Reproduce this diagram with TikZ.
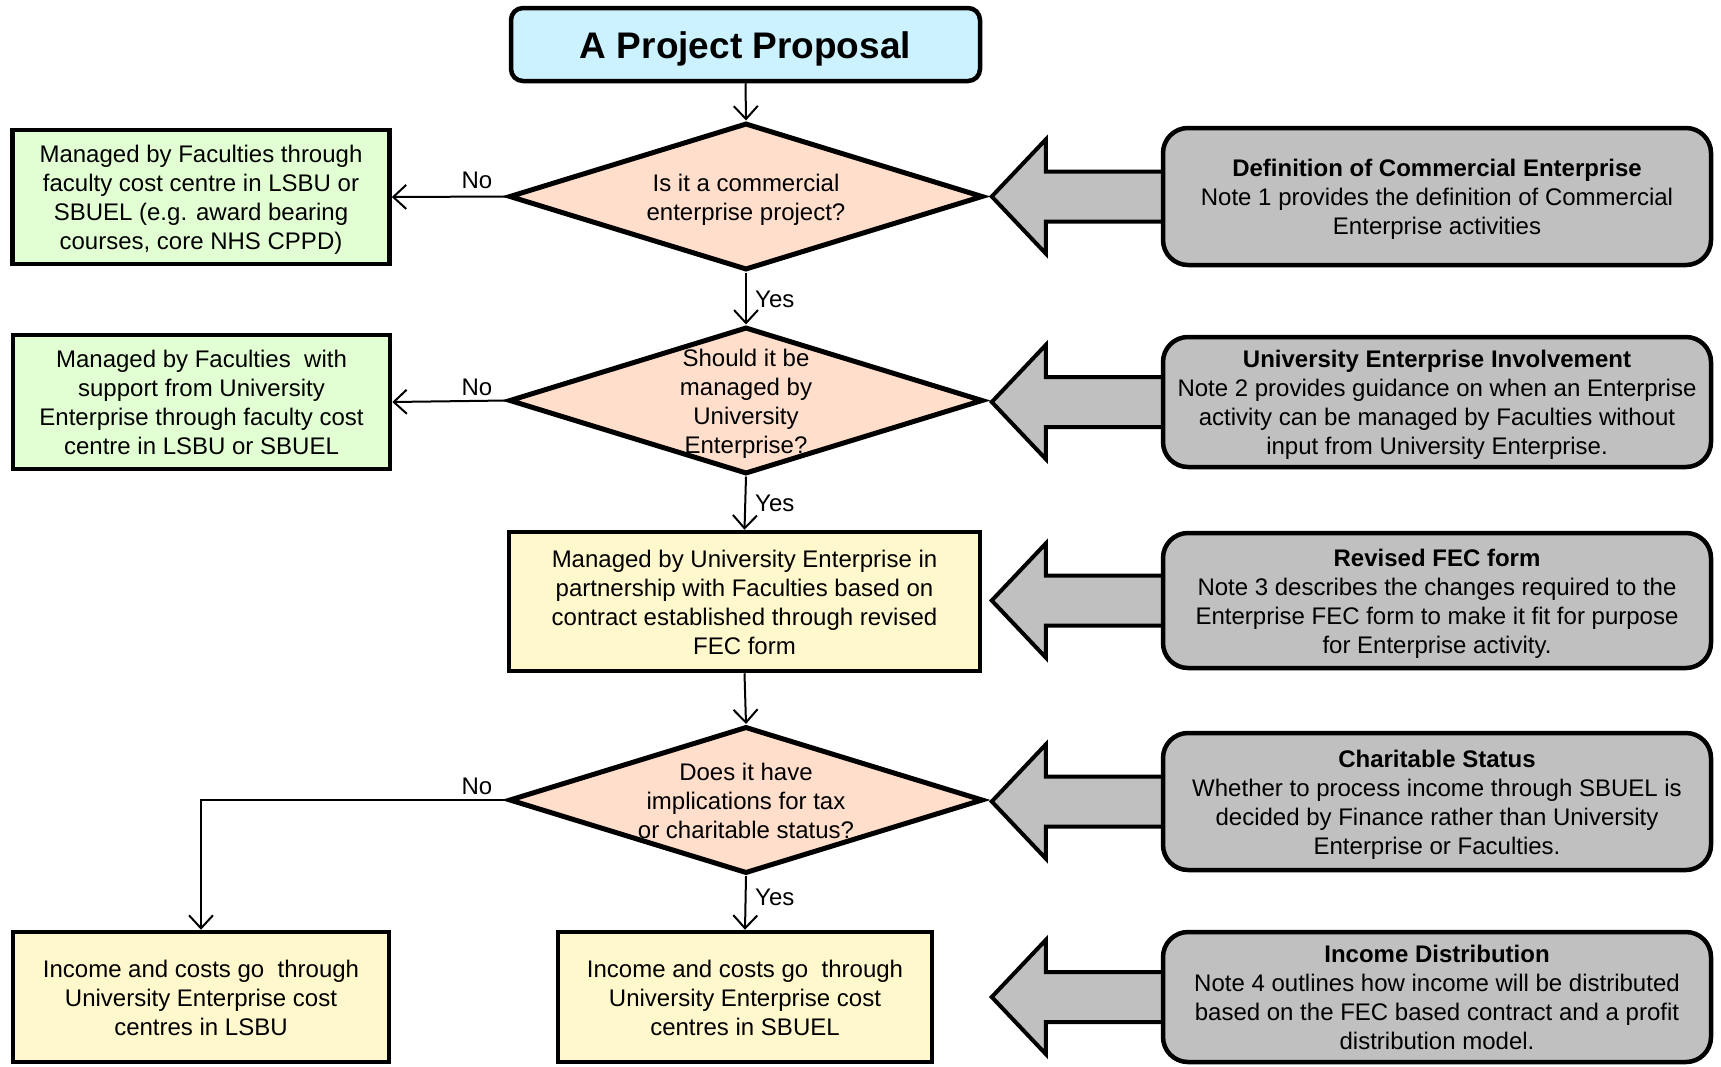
\documentclass[tikz,border=0pt]{standalone}
\usepackage{fontspec}
\setmainfont{Liberation Sans}
\usetikzlibrary{shapes.geometric,arrows.meta,calc}
\definecolor{titlefill}{RGB}{204,242,255}
\definecolor{greenfill}{RGB}{226,255,212}
\definecolor{peachfill}{RGB}{255,222,204}
\definecolor{yellowfill}{RGB}{255,248,204}
\definecolor{greyfill}{RGB}{192,192,192}
\newcommand{\ts}{\rule{0pt}{24pt}}
\newcommand{\mybotstrut}{\rule[-5.1pt]{0pt}{5.1pt}}
\newcommand{\mkblockarrow}[1]{%
  \draw[blockarrow] ($(#1.west)+(4,-25)$) -- ++(-119,0) -- ++(0,-32) -- ++(-54,57)
    -- ++(54,57) -- ++(0,-32) -- ++(119,0) -- cycle;}
\begin{document}
\begin{tikzpicture}[x=1pt,y=-1pt,
  every node/.style={font=\fontsize{24}{29}\selectfont},
  struts/.style={execute at end node=\mybotstrut},
  titlebox/.style={draw, line width=4.5pt, rounded corners=12pt, fill=titlefill,
    minimum width=469pt, minimum height=73pt, inner sep=0pt,
    font=\fontsize{37}{44}\selectfont\bfseries,
    execute at begin node=\rule[-7.8pt]{0pt}{43pt}},
  greenbox/.style={draw, line width=4.5pt, fill=greenfill, align=center, struts,
    minimum width=377pt, minimum height=134pt, inner sep=0pt},
  yellowbox/.style={draw, line width=4.5pt, fill=yellowfill, align=center, struts, inner sep=0pt},
  decision/.style={draw, line width=5pt, diamond, fill=peachfill,
    minimum width=474pt, minimum height=147pt, inner sep=0pt},
  decisiontext/.style={align=center, inner sep=0pt, struts},
  notebox/.style={draw, line width=4.5pt, rounded corners=25pt, fill=greyfill,
    align=center, minimum width=548pt, inner sep=0pt},
  notetext/.style={notebox, struts},
  blockarrow/.style={draw, line width=4pt, fill=greyfill, line join=miter},
  conn/.style={line width=2pt, -{Straight Barb[length=13pt,width=24pt]}},
  lbl/.style={inner sep=0pt}
]
\useasboundingbox (0,0) rectangle (1721,1066);

% main column
\node[titlebox] (title) at (745.5,44.5) {A Project Proposal};

\node[decision] (d1) at (746,196.5) {};
\node[decisiontext] (d1t) at (d1.center) {\ts Is it a commercial\\enterprise project?};

\node[decision] (d2) at (746,400.5) {};
\node[decisiontext] (d2t) at (d2.center) {\ts Should it be\\managed by\\University\\Enterprise?};

\node[yellowbox, minimum width=471pt, minimum height=139pt] (y1) at (744.5,601.5)
  {\ts Managed by University Enterprise in\\partnership with Faculties based on\\contract established through revised\\FEC form};

\node[decision] (d3) at (746,800) {};
\node[decisiontext] (d3t) at (d3.center) {\ts Does it have\\implications for tax\\or charitable status?};

\node[yellowbox, minimum width=376pt, minimum height=130pt] (y2) at (201,997)
  {\ts Income and costs go\ \ through\\University Enterprise cost\\centres in LSBU};
\node[yellowbox, minimum width=374pt, minimum height=130pt] (y3) at (745,997)
  {\ts Income and costs go\ \ through\\University Enterprise cost\\centres in SBUEL};

% left column
\node[greenbox] (g1) at (201,197)
  {\ts Managed by Faculties through\\faculty cost centre in LSBU or\\SBUEL (e.g. award bearing\\courses, core NHS CPPD)};
\node[greenbox] (g2) at (201.5,402)
  {\ts Managed by Faculties\ \ with\\support from University\\Enterprise through faculty cost\\centre in LSBU or SBUEL};

% connectors
\draw[conn] (title.south) -- (d1.north);
\draw[conn] (d1.west) -- (g1.east);
\node[lbl] (no1) at (477,180) {No};
\draw[conn] (d1.south) -- (d2.north);
\node[lbl, anchor=west] (yes1) at (755,299) {Yes};
\draw[conn] (d2.west) -- (g2.east);
\node[lbl] (no2) at (477,387) {No};
\draw[conn] (d2.south) -- (y1.north);
\node[lbl, anchor=west] (yes2) at (755,503) {Yes};
\draw[conn] (y1.south) -- (d3.north);
\draw[conn] (d3.west) -| (y2.north);
\node[lbl] (no3) at (477,786) {No};
\draw[conn] (d3.south) -- (y3.north);
\node[lbl, anchor=west] (yes3) at (755,897) {Yes};

% notes (right column)
\coordinate (n1pos) at (1437,196.5);
\coordinate (n2pos) at (1437,402);
\coordinate (n3pos) at (1437,600.5);
\coordinate (n4pos) at (1437,801.5);
\coordinate (n5pos) at (1437,997);
\path (n1pos) node[notebox, minimum height=137pt, draw=none, fill=none] (n1) {};
\path (n2pos) node[notebox, minimum height=130pt, draw=none, fill=none] (n2) {};
\path (n3pos) node[notebox, minimum height=135pt, draw=none, fill=none] (n3) {};
\path (n4pos) node[notebox, minimum height=137pt, draw=none, fill=none] (n4) {};
\path (n5pos) node[notebox, minimum height=130pt, draw=none, fill=none] (n5) {};
\mkblockarrow{n1}
\mkblockarrow{n2}
\mkblockarrow{n3}
\mkblockarrow{n4}
\mkblockarrow{n5}
\node[notetext, minimum height=137pt] (note1) at (n1pos)
  {\ts\textbf{Definition of Commercial Enterprise}\\Note 1 provides the definition of Commercial\\Enterprise activities};
\node[notetext, minimum height=130pt] (note2) at (n2pos)
  {\ts\textbf{University Enterprise Involvement}\\Note 2 provides guidance on when an Enterprise\\activity can be managed by Faculties without\\input from University Enterprise.};
\node[notetext, minimum height=135pt] (note3) at (n3pos)
  {\ts\textbf{Revised FEC form}\\Note 3 describes the changes required to the\\Enterprise FEC form to make it fit for purpose\\for Enterprise activity.};
\node[notetext, minimum height=137pt] (note4) at (n4pos)
  {\ts\textbf{Charitable Status}\\Whether to process income through SBUEL is\\decided by Finance rather than University\\Enterprise or Faculties.};
\node[notetext, minimum height=130pt] (note5) at (n5pos)
  {\ts\textbf{Income Distribution}\\Note 4 outlines how income will be distributed\\based on the FEC based contract and a profit\\distribution model.};
\end{tikzpicture}
\end{document}
